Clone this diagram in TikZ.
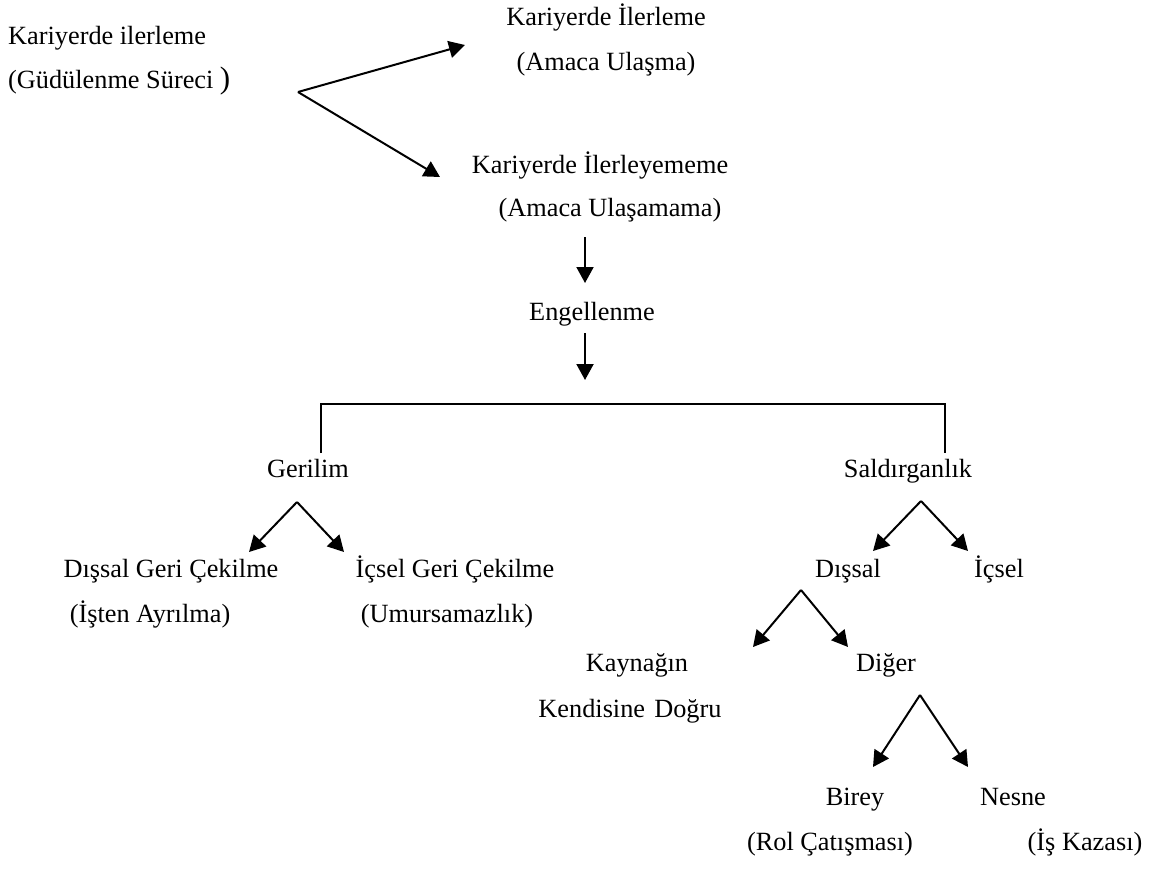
\documentclass[tikz,border=0pt]{standalone}
\usepackage{fontspec}
\setmainfont{Liberation Serif}
\usetikzlibrary{arrows.meta, positioning}
\tikzset{
	every node/.style={
		font=\fontsize{26.3}{30}\selectfont
	},
	etiket/.style={
		anchor=base,
		inner sep=0pt
	},
	ok/.style={
		-{Triangle[length=16pt,width=17pt]},
		line width=2pt
	},
	cizgi/.style={
		line width=2.4pt
	}
}

\begin{document}
\begin{tikzpicture}[x=1pt,y=-1pt]
	\useasboundingbox (0,0) rectangle (1156,872);
	
	% ust kisim
	\node[etiket, anchor=base west] (surec)   at (8,45)    {Kariyerde ilerleme};
	\node[etiket, anchor=base west] (surecb)  at (8,89)    {(Güdülenme Süreci {\fontsize{31}{31}\selectfont )}};
	\node[etiket]         (ulasma)   at (606,26)  {Kariyerde İlerleme};
	\node[etiket]         (ulasmab)  at (606,71)  {(Amaca Ulaşma)};
	\node[etiket]         (ulasmama) at (600,173) {Kariyerde İlerleyememe};
	\node[etiket]         (ulasmamab) at (610,216) {(Amaca Ulaşamama)};
	\node[etiket]         (engel)    at (592,320) {Engellenme};
	
	\coordinate (catal1) at (298,92);
	\coordinate (uc1)    at (465,45);
	\coordinate (uc2)    at (440,177);
	\coordinate (ok1b)   at (585,237);
	\coordinate (ok1s)   at (585,283);
	\coordinate (ok2b)   at (585,333);
	\coordinate (ok2s)   at (585,380);
	
	\draw[ok] (catal1) -- (uc1);
	\draw[ok] (catal1) -- (uc2);
	\draw[ok] (ok1b) -- (ok1s);
	\draw[ok] (ok2b) -- (ok2s);
	
	% iki kol
	\node[etiket]         (gerilim)  at (308,477) {Gerilim};
	\node[etiket]         (saldiri)  at (908,477) {Saldırganlık};
	
	\coordinate (kolsol) at (321,453);
	\coordinate (kolsag) at (945,453);
	\draw[cizgi] (kolsol) -- ++(0,-49) -| (kolsag);
	
	% gerilim
	\node[etiket]         (discekil)  at (171,577) {Dışsal Geri Çekilme};
	\node[etiket]         (iccekil)   at (455,577) {İçsel Geri Çekilme};
	\node[etiket]         (discekilb) at (150,622) {(İşten Ayrılma)};
	\node[etiket]         (iccekilb)  at (447,622) {(Umursamazlık)};
	
	\coordinate (catal2) at (297,502);
	\coordinate (uc3)    at (249,552);
	\coordinate (uc4)    at (344,552);
	\draw[ok] (catal2) -- (uc3);
	\draw[ok] (catal2) -- (uc4);
	
	% saldirganlik
	\node[etiket]         (dissal)   at (848,577) {Dışsal};
	\node[etiket]         (icsel)    at (999,577) {İçsel};
	
	\coordinate (catal3) at (921,501);
	\coordinate (uc5)    at (873,551);
	\coordinate (uc6)    at (968,551);
	\draw[ok] (catal3) -- (uc5);
	\draw[ok] (catal3) -- (uc6);
	
	\node[etiket]         (kaynak)   at (637,671) {Kaynağın};
	\node[etiket]         (kaynakb)  at (630,717) {Kendisine\hspace{0.35em}Doğru};
	\node[etiket]         (diger)    at (886,671) {Diğer};
	
	\coordinate (catal4) at (801,590);
	\coordinate (uc7)    at (753,647);
	\coordinate (uc8)    at (848,647);
	\draw[ok] (catal4) -- (uc7);
	\draw[ok] (catal4) -- (uc8);
	
	% diger
	\node[etiket]         (birey)    at (855,805) {Birey};
	\node[etiket]         (nesne)    at (1013,805) {Nesne};
	\node[etiket]         (bireyb)   at (830,850) {(Rol Çatışması)};
	\node[etiket]         (nesneb)   at (1085,850) {(İş Kazası)};
	
	\coordinate (catal5) at (920,695);
	\coordinate (uc9)    at (873,767);
	\coordinate (uc10)   at (968,767);
	\draw[ok] (catal5) -- (uc9);
	\draw[ok] (catal5) -- (uc10);
\end{tikzpicture}
\end{document}
